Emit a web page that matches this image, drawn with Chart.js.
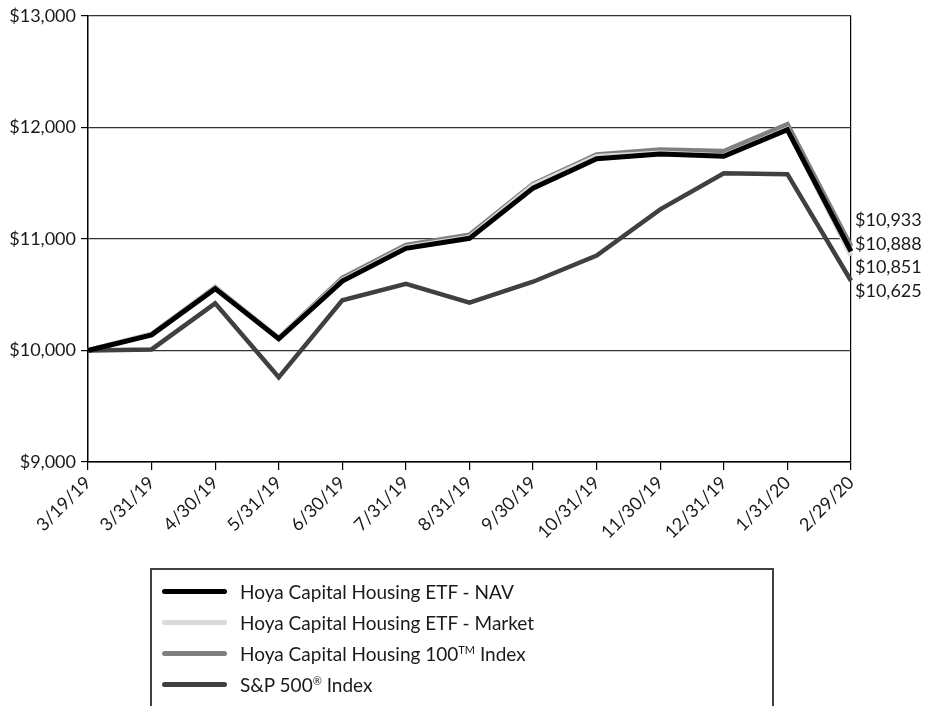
<!DOCTYPE html>
<html>
<head>
<meta charset="utf-8">
<script src="https://cdn.jsdelivr.net/npm/chart.js@4"></script>
<style>
  html, body { margin: 0; padding: 0; background: #fff; overflow: hidden; }
  #wrap { position: relative; width: 936px; height: 706px; }
  #legend {
    position: absolute; left: 150px; top: 568px; width: 620px; height: 160px;
    border: 2px solid #404040; font-family: Lato, sans-serif; font-size: 19px; color: #1a1a1a;
  }
  .item { position: absolute; left: 10px; display: flex; align-items: center; }
  .swatch { display: inline-block; width: 65px; height: 5px; border-radius: 3px; margin-right: 13px; }
  sup { font-size: 11px; line-height: 0; vertical-align: 7px; }
</style>
</head>
<body>
<div id="wrap">
  <canvas id="chart" width="936" height="706"></canvas>
  <div id="legend"></div>
</div>
<script>
const dates = ['3/19/19', '3/31/19', '4/30/19', '5/31/19', '6/30/19', '7/31/19', '8/31/19',
  '9/30/19', '10/31/19', '11/30/19', '12/31/19', '1/31/20', '2/29/20'];
const navValues = [10000, 10140, 10554, 10105, 10622, 10915, 11005, 11455, 11718, 11762, 11740, 11978, 10888];
const marketValues = [10000, 10145, 10560, 10110, 10630, 10925, 11015, 11480, 11740, 11770, 11745, 11985, 10851];
const indexValues = [10000, 10145, 10565, 10110, 10650, 10945, 11035, 11490, 11755, 11800, 11785, 12025, 10933];
const spValues = [10000, 10009, 10422, 9759, 10450, 10598, 10429, 10616, 10850, 11265, 11589, 11580, 10625];
const seriesNames = ['Hoya Capital Housing ETF - NAV', 'Hoya Capital Housing ETF - Market',
  'Hoya Capital Housing 100\u2122 Index', 'S&P 500\u00ae Index'];
const yTicks = [9000, 10000, 11000, 12000, 13000];

const colors = {
  nav: '#000000',
  market: '#d9d9d9',
  index: '#808080',
  sp: '#404040',
  grid: '#333333',
  text: '#1a1a1a',
};

const money = v => '$' + v.toLocaleString('en-US');
const font = { family: 'Lato, sans-serif', size: 18 };

// ending values stacked at right of the plot
const endLabels = {
  id: 'endLabels',
  afterDatasetsDraw(chart) {
    const { ctx, chartArea, scales } = chart;
    const last = dates.length - 1;
    const vals = [navValues[last], marketValues[last], indexValues[last], spValues[last]].sort((a, b) => b - a);
    const baseY = scales.y.getPixelForValue(vals[vals.length - 1]) + 10;
    ctx.save();
    ctx.font = `${font.size}px ${font.family}`;
    ctx.fillStyle = colors.text;
    ctx.textBaseline = 'middle';
    vals.forEach((v, i) => {
      const y = baseY - (vals.length - 1 - i) * 23.5;
      ctx.fillText(money(v), chartArea.right + 4, y);
    });
    ctx.restore();
  },
};

const mkLine = (label, data, color, width) => ({
  label, data,
  borderColor: color,
  backgroundColor: color,
  borderWidth: width,
  pointRadius: 0,
  tension: 0,
  borderJoinStyle: 'miter',
  fill: false,
});

new Chart(document.getElementById('chart'), {
  type: 'line',
  data: {
    labels: dates,
    datasets: [
      mkLine(seriesNames[0], navValues, colors.nav, 5),
      mkLine(seriesNames[1], marketValues, colors.market, 5),
      mkLine(seriesNames[2], indexValues, colors.index, 5),
      mkLine(seriesNames[3], spValues, colors.sp, 4.5),
    ],
  },
  options: {
    responsive: false,
    animation: false,
    layout: { padding: { top: 14, right: 85, left: 0, bottom: 0 } },
    plugins: { legend: { display: false }, tooltip: { enabled: false } },
    scales: {
      x: {
        afterFit: s => { s.height = 706 - 462; },
        border: { color: '#000', width: 1.5 },
        grid: {
          color: c => (c.index === dates.length - 1 ? '#000' : 'rgba(0,0,0,0)'),
          tickColor: '#000',
          tickLength: 8,
          lineWidth: 1.2,
        },
        ticks: { color: colors.text, font, minRotation: 45, maxRotation: 45, padding: 2, autoSkip: false },
      },
      y: {
        min: 9000,
        max: 13000,
        afterFit: s => { s.width = 88; },
        afterBuildTicks: s => { s.ticks = yTicks.map(v => ({ value: v })); },
        border: { color: '#000', width: 1.5 },
        grid: { color: colors.grid, tickColor: '#000', tickLength: 7, lineWidth: 1.2 },
        ticks: { color: colors.text, font, padding: 5, callback: v => money(v) },
      },
    },
  },
  plugins: [endLabels],
});

// legend box below the plot
const legendColors = [colors.nav, colors.market, colors.index, colors.sp];
const legend = document.getElementById('legend');
seriesNames.forEach((name, i) => {
  const row = document.createElement('div');
  row.className = 'item';
  row.style.top = (10 + i * 31) + 'px';
  const html = name.replace('\u2122', '<sup>TM</sup>').replace('\u00ae', '<sup>\u00ae</sup>');
  row.innerHTML = `<span class="swatch" style="background:${legendColors[i]}"></span><span>${html}</span>`;
  legend.appendChild(row);
});
</script>
</body>
</html>
